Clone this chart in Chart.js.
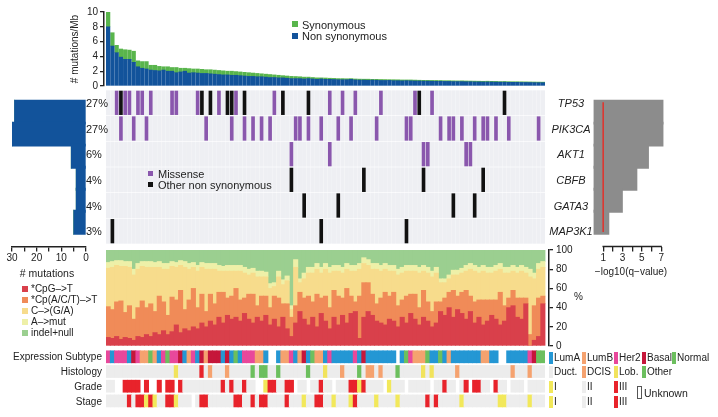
<!DOCTYPE html>
<html>
<head>
<meta charset="utf-8">
<script src="https://cdn.jsdelivr.net/npm/chart.js@4.4.0/dist/chart.umd.min.js"></script>
<style>
  body { margin: 0; background: #fff; font-family: "Liberation Sans", Arial, sans-serif; color: #222; }
  #fig { position: relative; width: 718px; height: 417px; overflow: hidden; }
  .box { position: absolute; }
  .t { position: absolute; white-space: nowrap; line-height: 1; font-size: 10px; }
  .sw { position: absolute; }
</style>
</head>
<body>
<div id="fig">
  <div class="box" style="left:67px;top:0px"><canvas id="cTop" width="483" height="96"></canvas></div>
  <div class="box" style="left:106px;top:90px"><canvas id="cOnco" width="439" height="154"></canvas></div>
  <div class="box" style="left:0px;top:85px"><canvas id="cLeft" width="106" height="200"></canvas></div>
  <div class="box" style="left:585px;top:85px"><canvas id="cRight" width="130" height="200"></canvas></div>
  <div class="box" style="left:106px;top:240px"><canvas id="cPct" width="480" height="115"></canvas></div>
  <div class="box" style="left:106px;top:349px"><canvas id="cTrack" width="439" height="60"></canvas></div>
</div>
<script>
// ---- mutation rate per sample (mutations/Mb) ----
const nonSynRate = [8.0,5.4,4.5,3.9,3.6,3.6,3.2,2.6,2.4,2.3,
  2.15,2.1,2.05,2.15,2.0,2.0,1.8,1.9,2.0,1.75,
  1.8,1.75,1.7,1.7,1.65,1.6,1.55,1.5,1.5,1.45,
  1.45,1.4,1.35,1.3,1.3,1.25,1.25,1.2,1.15,1.15,
  1.1,1.1,1.05,1.0,1.0,1.0,0.95,1.0,0.95,0.9,
  0.95,0.9,0.9,0.88,0.85,0.85,0.85,0.9,0.82,0.8,
  0.8,0.78,0.8,0.78,0.75,0.75,0.76,0.72,0.72,0.7,
  0.72,0.7,0.68,0.68,0.66,0.66,0.65,0.64,0.64,0.62,
  0.62,0.6,0.6,0.6,0.58,0.58,0.56,0.56,0.55,0.55,
  0.54,0.53,0.52,0.52,0.5,0.5,0.5,0.48,0.48,0.47,
  0.46,0.45,0.45];
const synRate = [2.3,1.8,1.0,1.1,1.3,1.25,1.5,0.8,0.9,1.0,
  0.65,0.7,0.6,0.45,0.6,0.5,0.7,0.5,0.4,0.6,
  0.5,0.55,0.55,0.5,0.55,0.55,0.55,0.55,0.5,0.55,
  0.5,0.5,0.5,0.5,0.45,0.45,0.4,0.4,0.4,0.35,
  0.35,0.3,0.3,0.3,0.28,0.25,0.25,0.2,0.2,0.2,
  0.15,0.18,0.15,0.15,0.15,0.15,0.13,0.1,0.13,0.13,
  0.12,0.14,0.1,0.12,0.13,0.12,0.1,0.13,0.12,0.12,
  0.1,0.12,0.12,0.1,0.11,0.1,0.1,0.11,0.1,0.1,
  0.1,0.1,0.09,0.1,0.1,0.09,0.1,0.09,0.09,0.1,
  0.09,0.09,0.08,0.09,0.09,0.08,0.08,0.09,0.08,0.08,
  0.08,0.08,0.07];
const rateTicks = [0, 2, 4, 6, 8, 10];

// ---- significantly mutated genes ----
const genes = ['TP53', 'PIK3CA', 'AKT1', 'CBFB', 'GATA3', 'MAP3K1'];
const genePct = ['27%', '27%', '6%', '4%', '4%', '3%'];
const geneNonSynCount = [29, 30, 6, 4, 4, 5];
const geneSynCount = [0, 1, 0, 0, 0, 0];
const geneLogQ = [7.2, 7.2, 5.7, 4.5, 3.0, 1.6];
const qThreshold = 1;
const countTicks = [0, 5, 10, 15, 20, 25, 30];
const qTicks = [1, 2, 3, 4, 5, 6, 7];

// sample indices carrying a mutation
const tp53Missense = [2,4,5,7,8,10,15,16,21,26,30,39,52,55,58,64,72,76];
const tp53Other = [3,22,24,28,29,32,41,47,73,93];
const pik3caMissense = [3,6,9,23,29,32,34,36,38,44,45,47,50,54,57,63,70,71,78,80,81,83,86,88,89,91,94,101];
const pik3caOther = [];
const akt1Missense = [43,52,74,75,84,85];
const akt1Other = [];
const cbfbMissense = [];
const cbfbOther = [43,60,74,88];
const gata3Missense = [];
const gata3Other = [46,54,81,86];
const map3k1Missense = [];
const map3k1Other = [1,50,70];

// ---- mutation spectrum (% per sample) ----
const cpgT =   [9,8,10,7,9,8,6,10,9,12, 10,14,12,16,12,15,22,14,18,16, 20,18,24,20,26,22,30,24,32,28,
  30,26,34,28,24,30,26,32,22,28, 20,30,18,10,24,36,28,22,30,20, 34,26,18,30,22,32,24,34,36,8,
  30,36,32,26,24,22,28,26,20,30, 24,34,28,22,30,26,20,24,36,32, 40,30,38,34,28,36,24,30,22,26,
  32,28,22,26,40,42,30,28,44,0, 6,10,44];
const cpxT =   [32,30,36,40,26,34,22,30,38,28, 34,22,40,30,20,36,26,44,20,32, 40,22,30,16,28,22,26,32,18,24,
  30,22,16,26,30,12,26,20,18,24, 30,14,26,20,18,20,22,30,16,34, 16,26,22,28,30,18,36,18,10,44,
  36,30,22,18,26,34,24,30,22,18, 28,20,26,18,28,20,16,22,10,18, 16,28,14,22,30,16,22,18,26,22,
  16,20,34,16,10,16,20,22,6,12, 36,40,8];
const cToGA =  [40,44,38,36,48,40,46,40,36,42, 38,46,30,34,48,32,34,26,44,32, 22,38,28,44,26,36,22,22,28,26,
  18,30,26,20,22,30,20,20,20,10, 22,20,24,8,40,10,20,24,30,26, 26,28,36,20,26,26,20,26,32,28,
  20,18,26,36,28,24,26,22,32,28, 26,24,24,36,20,30,36,30,20,16, 14,16,22,20,20,28,32,28,30,28,
  28,30,24,34,26,20,26,28,26,60, 28,30,30];
const aMut =   [6,6,5,6,5,6,6,6,5,6, 6,5,6,6,6,5,5,5,6,6, 5,6,5,6,6,6,6,5,6,6,
  6,6,6,6,5,6,6,5,5,4, 6,5,5,4,8,4,6,6,6,6, 6,6,6,6,6,6,6,6,6,6,
  6,6,6,6,6,6,6,6,6,6, 6,6,6,6,6,6,6,6,4,4, 4,5,5,5,6,6,6,6,6,6,
  6,6,6,6,6,6,6,6,6,8, 6,6,6];
const indelNull = [13,12,11,11,12,12,20,14,12,12, 12,13,12,14,14,12,13,11,12,14, 13,16,13,14,14,14,16,17,16,16,
  16,16,18,20,19,22,22,23,35,34, 22,31,27,58,10,30,24,18,18,14, 18,14,18,16,16,18,14,16,16,14,
  8,10,14,14,16,14,16,16,20,18, 16,16,16,18,16,18,22,18,30,30, 26,21,21,19,16,14,16,18,16,18,
  18,16,14,18,18,16,18,16,18,20, 24,14,12];
const pctTicks = [0, 20, 40, 60, 80, 100];

// ---- clinical annotation per sample ----
const subtype = ['H','A','H','H','H','A','Ba','H','B','B', 'N','B','A','H','N','H','H','Ba','A','B',
  'H','A','Ba','B','Ba','Ba','Ba','A','Ba','A', 'N','A','H','H','H','B','B','A','','',
  'A','B','B','H','A','B','Ba','A','N','B', 'B','A','H','A','A','A','A','A','H','A',
  'Ba','A','A','A','A','A','A','A','','A', 'N','H','B','B','B','N','A','A','N','A',
  'B','A','A','A','A','A','A','A','B','B', 'A','A','','','A','A','A','A','A','H',
  'Ba','N','N'];
const histology = ['D','D','D','D','D','D','D','D','D','D', 'D','D','D','D','D','D','L','D','D','D',
  'D','D','R','D','C','D','D','D','C','D', 'D','D','D','D','O','D','O','O','D','D',
  'O','D','D','D','D','D','D','O','D','D', 'D','L','D','D','D','C','D','D','D','O',
  'D','C','C','D','C','D','D','D','O','D', 'D','D','D','D','L','D','L','D','D','D',
  'D','D','C','D','D','D','D','D','D','D', 'D','D','D','D','D','C','D','D','D','C',
  'D','D','D'];
const grade = ['2','2','','','3','3','3','3','','3', '','','3','','3','3','','3','2','2',
  '2','2','2','2','2','2','2','3','2','3', '2','2','3','2','2','','','1','3','3',
  '2','2','3','3','','2','2','','2','2', '3','2','2','','2','2','2','3','3','1',
  '3','2','2','2','2','','1','2','2','2', '','2','2','2','2','2','','2','2','3',
  '2','2','','2','3','','3','3','2','2', '','3','2','2','','2','2','2','','2',
  '2','2','2'];
const stage = ['2','2','2','2','2','3','2','3','3','1', '3','1','2','2','3','3','1','2','2','2',
  '','2','3','3','2','2','2','2','2','2', '3','3','2','2','3','2','3','3','2','2',
  '2','2','3','2','2','2','1','2','2','3', '3','2','2','1','2','2','2','1','3','2',
  '2','2','2','1','2','2','2','2','1','2', '2','2','2','2','2','3','2','3','2','2',
  '2','2','2','1','2','2','2','2','2','2', '2','2','1','1','2','2','2','2','2','1',
  '2','2','2'];

// ---- colours ----
const BLUE = '#12539b', GREEN = '#59b54c', PURPLE = '#8a57ad', BLACK = '#111111', GRID_BG = '#eeeff3';
const spectrumColors = ['#d9404b', '#f08b58', '#f7dc8c', '#eef0a8', '#9bcf90'];
const subtypeColors = { A: '#2497d4', B: '#f5a26f', H: '#e8489b', Ba: '#c5163a', N: '#6cbf5e' };
const histColors = { D: '#ececec', C: '#f5a26f', L: '#f1e35c', O: '#6cbf5e', R: '#e8232b' };
const levelColors = { '1': '#f2e85a', '2': '#ededed', '3': '#e8232b' };

Chart.defaults.font.family = '"Liberation Sans", Arial, sans-serif';
Chart.defaults.font.size = 10;
Chart.defaults.color = '#222';

const N = nonSynRate.length;
const ROWS = genes.length;
const base = {
  responsive: false,
  animation: false,
  events: [],
  plugins: { legend: { display: false }, tooltip: { enabled: false } }
};
const hiddenX = (min, max) => ({ type: 'linear', min, max, display: false, offset: false, grid: { offset: false } });
const fixedTicks = list => s => { s.ticks = list.map(v => ({ value: v })); };
const axisGrid = { drawOnChartArea: false, tickLength: 4, color: '#222', lineWidth: 1.3 };

// ---- top: mutation rate ----
new Chart(document.getElementById('cTop'), {
  type: 'bar',
  data: {
    datasets: [
      { data: nonSynRate.map((v, i) => ({ x: i, y: v })), backgroundColor: BLUE, barThickness: 3.6 },
      { data: synRate.map((v, i) => ({ x: i, y: v })), backgroundColor: GREEN, barThickness: 3.6 }
    ]
  },
  options: {
    ...base,
    layout: { padding: { top: 12, right: 5, bottom: 10, left: 0 } },
    scales: {
      x: { ...hiddenX(-0.97, 102.5), stacked: true },
      y: {
        stacked: true, min: 0, max: 10,
        afterBuildTicks: fixedTicks(rateTicks),
        ticks: { padding: 2, autoSkip: false },
        grid: axisGrid,
        border: { color: '#222', width: 1.5 },
        title: { display: true, text: '# mutations/Mb', padding: { top: 2, bottom: 0 } },
        afterFit: s => { s.width = 37; }
      }
    }
  }
});

// ---- oncoprint ----
const rowBar = (r, pad) => [r + pad, r + 1 - pad];
const marks = (list, r) => list.map(s => ({ x: s, y: rowBar(r, 0.04) }));
const missenseByGene = [tp53Missense, pik3caMissense, akt1Missense, cbfbMissense, gata3Missense, map3k1Missense];
const otherByGene = [tp53Other, pik3caOther, akt1Other, cbfbOther, gata3Other, map3k1Other];
const bgCells = [];
for (let r = 0; r < ROWS; r++) for (let i = 0; i < N; i++) bgCells.push({ x: i, y: rowBar(r, 0.025) });

new Chart(document.getElementById('cOnco'), {
  type: 'bar',
  data: {
    datasets: [
      { data: missenseByGene.flatMap((l, r) => marks(l, r)), backgroundColor: PURPLE, barThickness: 3, grouped: false, order: 0 },
      { data: otherByGene.flatMap((l, r) => marks(l, r)), backgroundColor: BLACK, barThickness: 3, grouped: false, order: 0 },
      { data: bgCells, backgroundColor: GRID_BG, barThickness: 3.5, grouped: false, order: 1 }
    ]
  },
  options: {
    ...base,
    layout: { padding: 0 },
    scales: {
      x: hiddenX(-0.5, N - 0.5),
      y: { type: 'linear', min: 0, max: ROWS, reverse: true, display: false }
    }
  }
});

// ---- left: number of mutations per gene ----
new Chart(document.getElementById('cLeft'), {
  type: 'bar',
  data: {
    datasets: [
      { data: geneNonSynCount.map((v, r) => ({ y: r + 0.5, x: [0, v] })), backgroundColor: BLUE, barThickness: 24.2, grouped: false },
      { data: geneSynCount.map((v, r) => ({ y: r + 0.5, x: [geneNonSynCount[r], geneNonSynCount[r] + v] })), backgroundColor: GREEN, barThickness: 24.2, grouped: false }
    ]
  },
  options: {
    ...base,
    indexAxis: 'y',
    layout: { padding: { left: 12, right: 20, top: 5, bottom: 0 } },
    scales: {
      y: { type: 'linear', min: 0, max: 6.1, reverse: true, display: false },
      x: {
        type: 'linear', min: 0, max: 30, reverse: true,
        afterBuildTicks: fixedTicks(countTicks),
        ticks: { padding: 1, maxRotation: 0, autoSkip: false, callback: v => (v % 10 === 0 ? v : '') },
        grid: { ...axisGrid, tickLength: 5 },
        border: { color: '#222', width: 1.5 },
        afterFit: s => { s.height = 38.4; }
      }
    }
  }
});

// ---- right: significance ----
const qPlugin = {
  id: 'qline',
  afterDatasetsDraw(chart) {
    const { ctx, chartArea, scales: { x, y } } = chart;
    ctx.save();
    ctx.strokeStyle = '#e2322b';
    ctx.lineWidth = 1.5;
    const px = x.getPixelForValue(qThreshold);
    ctx.beginPath();
    ctx.moveTo(px, y.getPixelForValue(0.05));
    ctx.lineTo(px, y.getPixelForValue(ROWS - 0.05));
    ctx.stroke();
    ctx.strokeStyle = '#222';
    ctx.beginPath();
    ctx.moveTo(x.getPixelForValue(qTicks[0]) - 0.7, chartArea.bottom);
    ctx.lineTo(x.getPixelForValue(qTicks[qTicks.length - 1]) + 0.7, chartArea.bottom);
    ctx.stroke();
    ctx.restore();
  }
};
new Chart(document.getElementById('cRight'), {
  type: 'bar',
  data: {
    datasets: [
      { data: geneLogQ.map((v, r) => ({ y: r + 0.5, x: [0, v] })), backgroundColor: '#8c8c8c', barThickness: 24.2 }
    ]
  },
  options: {
    ...base,
    indexAxis: 'y',
    layout: { padding: { left: 8.5, right: 49, top: 5, bottom: 0 } },
    scales: {
      y: { type: 'linear', min: 0, max: 6.1, reverse: true, display: false },
      x: {
        type: 'linear', min: 0, max: 7.5,
        afterBuildTicks: fixedTicks(qTicks),
        ticks: { padding: 1, maxRotation: 0, autoSkip: false, callback: v => (v % 2 === 1 ? v : '') },
        grid: { ...axisGrid, tickLength: 5 },
        border: { display: false },
        afterFit: s => { s.height = 38.4; }
      }
    }
  },
  plugins: [qPlugin]
});

// ---- mutation spectrum ----
const spectrum = [cpgT, cpxT, cToGA, aMut, indelNull];
new Chart(document.getElementById('cPct'), {
  type: 'bar',
  data: {
    datasets: spectrum.map((arr, k) => ({
      data: arr.map((v, i) => ({ x: i, y: v })),
      backgroundColor: spectrumColors[k],
      barThickness: 4.45
    }))
  },
  options: {
    ...base,
    layout: { padding: { top: 10, right: 0, bottom: 8.3, left: 0 } },
    scales: {
      x: { ...hiddenX(-0.5, 103.44), stacked: true },
      y: {
        stacked: true, position: 'right', min: 0, max: 100,
        afterBuildTicks: fixedTicks(pctTicks),
        ticks: { padding: 3, autoSkip: false },
        grid: axisGrid,
        border: { color: '#222', width: 1.5 },
        afterFit: s => { s.width = 37; }
      }
    }
  }
});

// ---- clinical tracks ----
const trackCells = [];
const trackColors = [];
const tracks = [[subtype, subtypeColors], [histology, histColors], [grade, levelColors], [stage, levelColors]];
tracks.forEach(([codes, pal], r) => {
  codes.forEach((c, i) => {
    if (!c) return;
    trackCells.push({ x: i, y: [r + 0.12, r + 0.94] });
    trackColors.push(pal[c]);
  });
});
new Chart(document.getElementById('cTrack'), {
  type: 'bar',
  data: { datasets: [{ data: trackCells, backgroundColor: trackColors, barThickness: 4.4 }] },
  options: {
    ...base,
    layout: { padding: 0 },
    scales: {
      x: hiddenX(-0.5, N - 0.5),
      y: { type: 'linear', min: 0, max: 4.08, reverse: true, display: false }
    }
  }
});

// ---- text & legends ----
const fig = document.getElementById('fig');
function addText(txt, x, y, opt = {}) {
  const d = document.createElement('div');
  d.className = 't';
  d.textContent = txt;
  d.style.fontSize = (opt.size || 10) + 'px';
  if (opt.italic) d.style.fontStyle = 'italic';
  const tx = opt.align === 'right' ? '-100%' : opt.align === 'center' ? '-50%' : '0';
  d.style.left = x + 'px';
  d.style.top = y + 'px';
  d.style.transform = `translate(${tx},-50%)`;
  fig.appendChild(d);
}
function addSwatch(x, y, w, h, color, border) {
  const d = document.createElement('div');
  d.className = 'sw';
  Object.assign(d.style, { left: x + 'px', top: y + 'px', width: w + 'px', height: h + 'px', background: color });
  if (border) { d.style.border = '1px solid ' + border; d.style.boxSizing = 'border-box'; }
  fig.appendChild(d);
}

addSwatch(292, 21, 6, 6, GREEN); addText('Synonymous', 302, 25, { size: 11 });
addSwatch(292, 33, 6, 6, BLUE); addText('Non synonymous', 302, 36, { size: 11 });

addSwatch(148, 171, 5, 5, PURPLE); addText('Missense', 158, 173.5, { size: 11 });
addSwatch(148, 182, 5, 5, BLACK); addText('Other non synonymous', 158, 184.5, { size: 11 });

genes.forEach((g, r) => {
  const cy = 90 + (r + 0.5) * 154 / ROWS;
  addText(g, 571, cy, { size: 11, italic: true, align: 'center' });
  addText(genePct[r], 86, cy, { size: 11 });
});

addText('# mutations', 47, 273, { size: 10.5, align: 'center' });
addText('\u2212log10(q\u2212value)', 631, 272, { align: 'center' });
addText('%', 574, 297);

const spectrumNames = ['*CpG\u2013>T', '*Cp(A/C/T)\u2013>T', 'C\u2013>(G/A)', 'A\u2013>mut', 'indel+null'];
spectrumNames.forEach((n, k) => {
  const cy = 289 + k * 11.1;
  addSwatch(22, cy - 3, 6, 6, spectrumColors[k]);
  addText(n, 31, cy);
});

['Expression Subtype', 'Histology', 'Grade', 'Stage'].forEach((n, r) => addText(n, 102, 357 + r * 14.9, { align: 'right' }));

const legRow = (y, items) => items.forEach(([label, color, x, border]) => {
  addSwatch(x, y - 6, 3.5, 12, color, border);
  addText(label, x + 5, y);
});
legRow(357.5, [['LumA', subtypeColors.A, 549], ['LumB', subtypeColors.B, 582], ['Her2', subtypeColors.H, 614], ['Basal', subtypeColors.Ba, 642], ['Normal', subtypeColors.N, 672]]);
legRow(371.5, [['Duct.', histColors.D, 549], ['DCIS', histColors.C, 582], ['Lob.', histColors.L, 614], ['Other', histColors.O, 642]]);
legRow(386.5, [['I', levelColors['1'], 549], ['II', levelColors['2'], 582], ['III', levelColors['3'], 614]]);
legRow(401.5, [['I', levelColors['1'], 549], ['II', levelColors['2'], 582], ['III', levelColors['3'], 614]]);
addSwatch(637, 386, 5, 13, '#fff', '#555');
addText('Unknown', 644, 393, { size: 10.5 });
</script>
</body>
</html>
